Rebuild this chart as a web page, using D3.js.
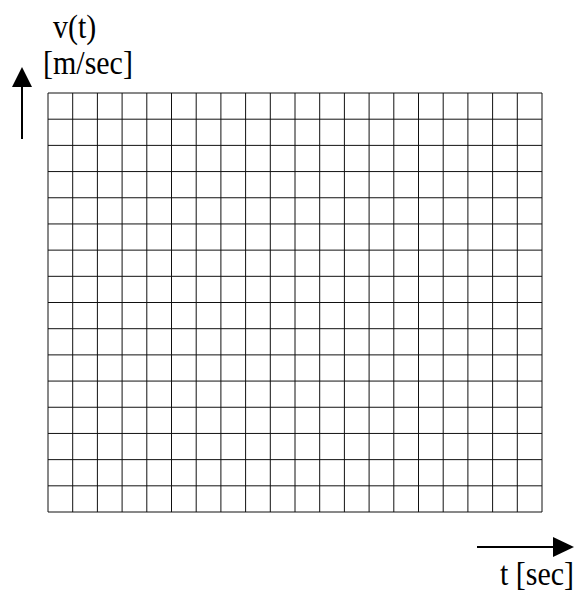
<!DOCTYPE html>
<html>
<head>
<meta charset="utf-8">
<script src="https://cdn.jsdelivr.net/npm/d3@7"></script>
<style>
  body { margin: 0; background: #fff; }
</style>
</head>
<body>
<svg id="chart"></svg>
<script>
// empty graph paper: v(t) against t
const tTicks = [0, 1, 2, 3, 4, 5, 6, 7, 8, 9, 10, 11, 12, 13, 14, 15, 16, 17, 18, 19, 20];
const vTicks = [0, 1, 2, 3, 4, 5, 6, 7, 8, 9, 10, 11, 12, 13, 14, 15, 16];
const yLabel = ['v(t)', '[m/sec]'];
const xLabel = 't [sec]';

const width = 582, height = 592;
const grid = { left: 48, right: 542, top: 93, bottom: 512 };
const serif = "'Liberation Serif', 'Times New Roman', Times, 'DejaVu Serif', serif";
const stretch = 1.15; // the original picture is a bit taller than wide

const svg = d3.select('#chart')
    .attr('width', width)
    .attr('height', height);

const x = d3.scaleLinear().domain(d3.extent(tTicks)).range([grid.left, grid.right]);
const y = d3.scaleLinear().domain(d3.extent(vTicks)).range([grid.bottom, grid.top]);

// vertical grid lines
svg.append('g')
    .selectAll('line')
    .data(tTicks)
    .join('line')
    .attr('x1', d => x(d))
    .attr('x2', d => x(d))
    .attr('y1', grid.top)
    .attr('y2', grid.bottom)
    .attr('stroke', '#111')
    .attr('stroke-width', 1);

// horizontal grid lines
svg.append('g')
    .selectAll('line')
    .data(vTicks)
    .join('line')
    .attr('x1', grid.left)
    .attr('x2', grid.right)
    .attr('y1', d => y(d))
    .attr('y2', d => y(d))
    .attr('stroke', '#111')
    .attr('stroke-width', 1);

// arrows
svg.append('line')
    .attr('x1', 22).attr('x2', 22)
    .attr('y1', 139).attr('y2', 86)
    .attr('stroke', '#000').attr('stroke-width', 2);
svg.append('path')
    .attr('d', 'M12,87 L22,67 L32,87 Z')
    .attr('fill', '#000');

svg.append('line')
    .attr('x1', 477).attr('x2', 554)
    .attr('y1', 547).attr('y2', 547)
    .attr('stroke', '#000').attr('stroke-width', 2);
svg.append('path')
    .attr('d', 'M553,537 L574,547 L553,557 Z')
    .attr('fill', '#000');

// labels
const label = (txt, tx, ty, anchor) => svg.append('text')
    .attr('transform', `translate(${tx},${ty}) scale(1,${stretch})`)
    .attr('text-anchor', anchor)
    .attr('font-family', serif)
    .attr('font-size', 30)
    .text(txt);

label(yLabel[0], 53, 38, 'start');
label(yLabel[1], 43, 74, 'start');
label(xLabel, 574, 585, 'end');
</script>
</body>
</html>
